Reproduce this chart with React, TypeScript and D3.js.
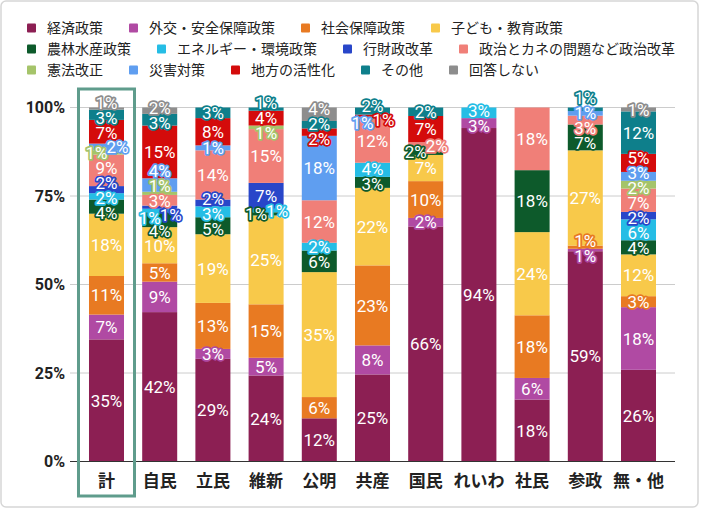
import { useEffect, useRef } from 'react';
import * as d3 from 'd3';

const categories = ['計', '自民', '立民', '維新', '公明', '共産', '国民', 'れいわ', '社民', '参政', '無・他'];

const policies = [
  '経済政策',
  '外交・安全保障政策',
  '社会保障政策',
  '子ども・教育政策',
  '農林水産政策',
  'エネルギー・環境政策',
  '行財政改革',
  '政治とカネの問題など政治改革',
  '憲法改正',
  '災害対策',
  '地方の活性化',
  'その他',
  '回答しない',
];

const policyColors = [
  '#8c1f53',
  '#b04aa3',
  '#e87a22',
  '#f8c94a',
  '#0d5a2b',
  '#25bde5',
  '#2846c9',
  '#f07f78',
  '#a5c46a',
  '#5f9ef0',
  '#d40b0b',
  '#0e7f8b',
  '#8d8d8d',
];

// share (%) per party, one array per policy
const keizai = [34.5, 42.2, 29.0, 24.3, 12.2, 24.6, 66.4, 94.2, 17.5, 59.4, 25.9];
const gaiko = [7.0, 8.6, 2.8, 5.0, 0, 8.2, 2.4, 2.8, 6.1, 0.7, 17.7];
const shakaiHosho = [10.9, 5.2, 13.0, 15.1, 6.0, 22.6, 10.4, 0, 17.7, 0.9, 3.1];
const kodomo = [17.6, 10.2, 19.4, 25.1, 35.3, 21.9, 7.4, 0, 23.5, 26.9, 11.8];
const norin = [4.0, 4.2, 4.8, 0.9, 6.1, 3.1, 1.5, 0, 17.5, 7.3, 4.0];
const energy = [1.8, 1.0, 3.1, 1.0, 2.2, 4.0, 0, 3.0, 0, 0, 5.9];
const gyozaisei = [2.0, 0.9, 1.9, 7.3, 0, 0, 0, 0, 0, 0, 2.1];
const seiji = [8.9, 3.0, 13.9, 15.2, 12.0, 12.4, 2.1, 0, 17.7, 2.5, 6.6];
const kenpo = [1.2, 0.9, 0, 1.0, 0, 0, 0, 0, 0, 0, 2.2];
const saigai = [1.9, 3.8, 1.4, 0, 18.2, 0.6, 0, 0, 0, 1.3, 2.5];
const chiho = [6.7, 14.9, 7.7, 4.2, 2.1, 0.6, 7.4, 0, 0, 0, 5.1];
const sonota = [2.9, 3.3, 3.0, 0.9, 2.1, 2.0, 2.4, 0, 0, 1.0, 12.0];
const mukaito = [0.6, 1.8, 0, 0, 3.8, 0, 0, 0, 0, 0, 1.1];

const seriesValues = [
  keizai, gaiko, shakaiHosho, kodomo, norin, energy, gyozaisei,
  seiji, kenpo, saigai, chiho, sonota, mukaito,
];

const yTicks = [0, 25, 50, 75, 100];
const highlighted = '計';

const jpFont = '"Noto Sans CJK JP", "Noto Sans", sans-serif';
const numFont = 'Roboto, "Noto Sans", sans-serif';

type Member = { k: number; t: number; dx: number };
type Unit = { members: Member[]; t: number; pos: number };

// spread the labels of one column so they do not sit on top of each other
const placeLabels = (segs: { k: number; v: number; t: number }[]) => {
  const units: Unit[] = [];
  let i = 0;
  while (i < segs.length) {
    const a = segs[i];
    const b = segs[i + 1];
    // two thin neighbours squeezed between other labels go side by side
    if (b && i + 1 < segs.length - 1 && Math.abs(a.t - b.t) < 6.6 && a.v < 2.5 && b.v < 2.5) {
      const mid = (a.t + b.t) / 2;
      const near = [segs[i - 1], segs[i + 2]].some((s) => s && Math.abs(s.t - mid) < 30);
      if (near) {
        units.push({
          members: [
            { k: a.k, t: a.t, dx: -10 },
            { k: b.k, t: b.t, dx: 11 },
          ],
          t: mid,
          pos: mid,
        });
        i += 2;
        continue;
      }
    }
    units.push({ members: [{ k: a.k, t: a.t, dx: 0 }], t: a.t, pos: a.t });
    i++;
  }

  const gap = 15;
  const sorted = [...units].sort((p, q) => p.t - q.t);
  const clusters: { units: Unit[]; y0: number }[] = [];
  sorted.forEach((u) => {
    clusters.push({ units: [u], y0: u.t });
    while (clusters.length > 1) {
      const b = clusters[clusters.length - 1];
      const a = clusters[clusters.length - 2];
      if (b.y0 - (a.y0 + (a.units.length - 1) * gap) >= gap) break;
      const us = a.units.concat(b.units);
      clusters.splice(clusters.length - 2, 2, {
        units: us,
        y0: d3.mean(us, (w, j) => w.t - j * gap) as number,
      });
    }
  });
  clusters.forEach((c) => c.units.forEach((u, j) => (u.pos = c.y0 + j * gap)));

  return units.flatMap((u) =>
    u.members.map((m) => ({ k: m.k, dx: m.dx, y: m.t + (u.pos - u.t) }))
  );
};

const App = () => {
  const ref = useRef<SVGSVGElement>(null);

  const width = 701;
  const height = 510;
  const margin = { top: 107.5, right: 26, bottom: 48.5, left: 70 };

  useEffect(() => {
    const svg = d3.select(ref.current);
    svg.selectAll('*').remove();

    // card background
    svg
      .append('rect')
      .attr('x', 1)
      .attr('y', 1)
      .attr('width', width - 4)
      .attr('height', height - 4)
      .attr('rx', 5)
      .attr('fill', '#fff')
      .attr('stroke', '#d6d6d6')
      .attr('stroke-width', 1.5);

    // legend
    const legend = svg.append('g');
    const rowY = [28, 49, 70];
    let lx = 27;
    let row = 0;
    policies.forEach((p, k) => {
      const g = legend.append('g');
      g.append('rect')
        .attr('width', 9)
        .attr('height', 9)
        .attr('rx', 1)
        .attr('y', -4.5)
        .attr('fill', policyColors[k]);
      const t = g
        .append('text')
        .attr('x', 20)
        .attr('dy', '0.35em')
        .style('font', `14px ${jpFont}`)
        .attr('fill', '#222')
        .text(p);
      const w = 20 + (t.node() as SVGTextElement).getComputedTextLength();
      if (lx + w > 685) {
        row += 1;
        lx = 27;
      }
      g.attr('transform', `translate(${lx},${rowY[row]})`);
      lx += w + 26;
    });

    const x = d3
      .scaleBand()
      .domain(categories)
      .range([margin.left, width - margin.right])
      .paddingInner(0.342)
      .paddingOuter(0.357);

    const y = d3
      .scaleLinear()
      .domain([0, 100])
      .range([height - margin.bottom, margin.top]);

    // grid
    svg
      .append('g')
      .selectAll('line')
      .data(yTicks.filter((t) => t > 0))
      .enter()
      .append('line')
      .attr('x1', margin.left)
      .attr('x2', width - margin.right)
      .attr('y1', (d) => y(d))
      .attr('y2', (d) => y(d))
      .attr('stroke', '#cccccc')
      .attr('stroke-width', 1);

    svg
      .append('g')
      .selectAll('text')
      .data(yTicks)
      .enter()
      .append('text')
      .attr('x', margin.left - 5)
      .attr('y', (d) => y(d))
      .attr('dy', '0.35em')
      .attr('text-anchor', 'end')
      .style('font', `bold 16px ${numFont}`)
      .attr('fill', '#222')
      .text((d) => d + '%');

    // stacked bars
    const rows = categories.map((c, i) => {
      const r: any = { category: c };
      policies.forEach((p, k) => (r[p] = seriesValues[k][i]));
      return r;
    });
    const stacked = d3.stack<any>().keys(policies)(rows);

    svg
      .append('g')
      .selectAll('g')
      .data(stacked)
      .enter()
      .append('g')
      .attr('fill', (_d, k) => policyColors[k])
      .selectAll('rect')
      .data((d) => d.filter((s) => s[1] - s[0] > 0))
      .enter()
      .append('rect')
      .attr('x', (d) => x(d.data.category) as number)
      .attr('width', x.bandwidth())
      .attr('y', (d) => y(d[1]))
      .attr('height', (d) => y(d[0]) - y(d[1]));

    // baseline
    svg
      .append('line')
      .attr('x1', margin.left)
      .attr('x2', width - margin.right)
      .attr('y1', y(0))
      .attr('y2', y(0))
      .attr('stroke', '#333')
      .attr('stroke-width', 1);

    // value labels
    const labelLayer = svg.append('g');
    categories.forEach((c, i) => {
      const segs = stacked
        .map((s, k) => ({ k, v: s[i][1] - s[i][0], t: (y(s[i][0]) + y(s[i][1])) / 2 }))
        .filter((s) => s.v > 0);
      const cx = (x(c) as number) + x.bandwidth() / 2;
      placeLabels(segs).forEach((l) => {
        labelLayer
          .append('text')
          .attr('x', cx + l.dx)
          .attr('y', l.y)
          .attr('dy', '0.36em')
          .attr('text-anchor', 'middle')
          .style('font', `17px ${numFont}`)
          .attr('fill', '#fff')
          .attr('stroke', policyColors[l.k])
          .attr('stroke-width', 3.5)
          .attr('stroke-linejoin', 'round')
          .attr('paint-order', 'stroke')
          .text(Math.round(seriesValues[l.k][i]) + '%');
      });
    });

    // category labels
    svg
      .append('g')
      .selectAll('text')
      .data(categories)
      .enter()
      .append('text')
      .attr('x', (d) => (x(d) as number) + x.bandwidth() / 2)
      .attr('y', 487)
      .attr('text-anchor', 'middle')
      .style('font', `bold 17px ${jpFont}`)
      .attr('fill', '#222')
      .text((d) => d);

    // highlight box round the total
    svg
      .append('rect')
      .attr('x', (x(highlighted) as number) - 10.5)
      .attr('y', 89)
      .attr('width', x.bandwidth() + 21)
      .attr('height', 407)
      .attr('fill', 'none')
      .attr('stroke', '#5f9c8c')
      .attr('stroke-width', 3);
  }, []);

  return (
    <svg
      ref={ref}
      width={width}
      height={height}
      style={{ position: 'absolute', left: 0, top: 0, display: 'block' }}
    />
  );
};

export default App;
